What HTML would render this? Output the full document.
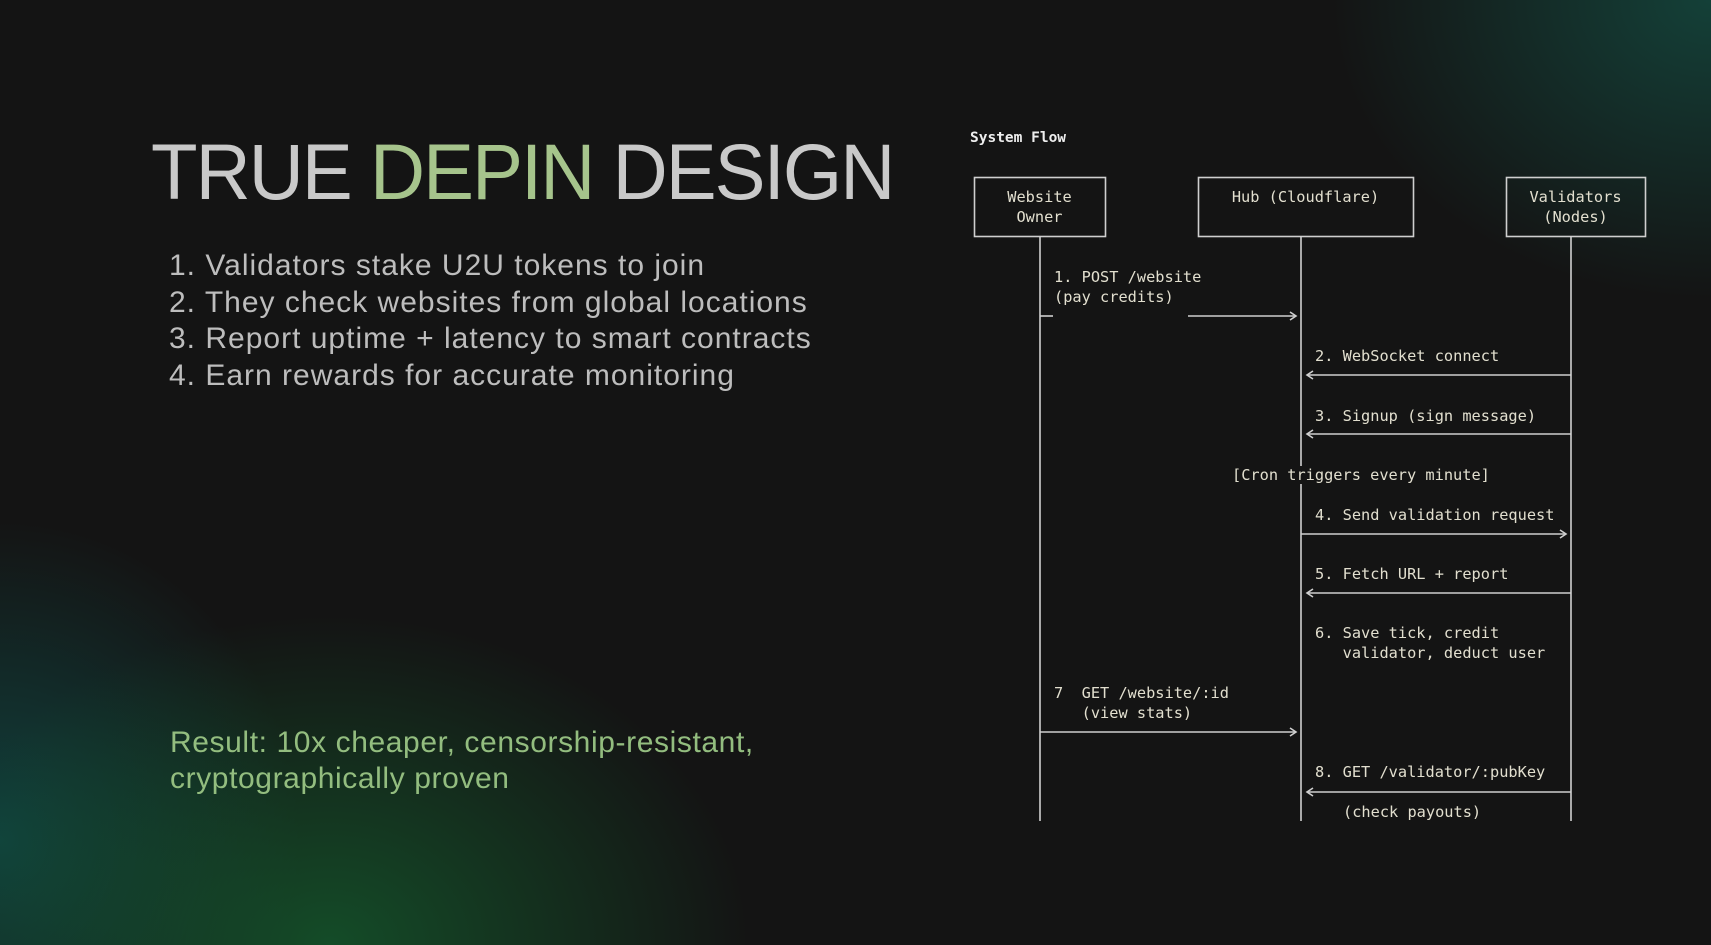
<!DOCTYPE html>
<html><head><meta charset="utf-8"><style>
html,body{margin:0;padding:0}
body{width:1711px;height:945px;overflow:hidden;position:relative;background:#141414;
background:
radial-gradient(ellipse 420px 330px at 330px 945px, rgba(20,90,45,0.8), rgba(20,90,45,0) 100%),
radial-gradient(ellipse 300px 320px at 0px 840px, rgba(15,80,75,0.75), rgba(15,80,75,0) 100%),
radial-gradient(ellipse 380px 300px at 1711px 0px, rgba(20,75,65,0.8), rgba(20,75,65,0) 100%),
#141414;font-family:"Liberation Sans",sans-serif}
h1{position:absolute;left:151px;top:126px;margin:0;font-weight:400;font-size:79px;color:#c9c9c9;letter-spacing:-2px;white-space:nowrap;transform:scaleX(0.965);transform-origin:0 0}
h1 span{color:#a6c48c}
.list{position:absolute;left:169px;top:248px;font-size:30px;letter-spacing:1px;line-height:36.6px;color:#bdbdbd;white-space:nowrap}
.res{position:absolute;left:170px;top:725px;font-size:30px;letter-spacing:0.6px;line-height:36px;color:#93bd7f;white-space:nowrap}
.m{position:absolute;font-family:"DejaVu Sans Mono","Liberation Mono",monospace;font-size:15.3px;color:#e2dfcf;white-space:pre;line-height:20px}
</style></head><body>
<h1>TRUE <span>DEPIN</span> DESIGN</h1>
<div class="list">1. Validators stake U2U tokens to join<br>2. They check websites from global locations<br>3. Report uptime + latency to smart contracts<br>4. Earn rewards for accurate monitoring</div>
<div class="res">Result: 10x cheaper, censorship-resistant,<br>cryptographically proven</div>

<div class="m" style="left:970px;top:128px;font-weight:bold;color:#eee;font-size:14.5px">System Flow</div>
<svg style="position:absolute;left:0;top:0" width="1711" height="945">
<g fill="none" stroke="#cfcfcf" stroke-width="1.6">
<rect x="974.5" y="177.5" width="131" height="59"/>
<rect x="1198.5" y="177.5" width="215" height="59"/>
<rect x="1506.5" y="177.5" width="139" height="59"/>
<line x1="1040" y1="237" x2="1040" y2="821"/>
<line x1="1301" y1="237" x2="1301" y2="466"/>
<line x1="1301" y1="484" x2="1301" y2="821"/>
<line x1="1571" y1="237" x2="1571" y2="821"/>
<line x1="1040" y1="316" x2="1053" y2="316"/>
<line x1="1188" y1="316" x2="1296" y2="316"/>
<polyline points="1290,312 1296,316 1290,320"/>
<line x1="1307" y1="375" x2="1571" y2="375"/><polyline points="1313,371 1307,375 1313,379"/>
<line x1="1307" y1="434" x2="1571" y2="434"/><polyline points="1313,430 1307,434 1313,438"/>
<line x1="1301" y1="534" x2="1566" y2="534"/><polyline points="1560,530 1566,534 1560,538"/>
<line x1="1307" y1="593" x2="1571" y2="593"/><polyline points="1313,589 1307,593 1313,597"/>
<line x1="1040" y1="732" x2="1296" y2="732"/><polyline points="1290,728 1296,732 1290,736"/>
<line x1="1307" y1="792" x2="1571" y2="792"/><polyline points="1313,788 1307,792 1313,796"/>
</g></svg>
<div class="m" style="left:974px;top:187px;width:131px;text-align:center">Website<br>Owner</div>
<div class="m" style="left:1198px;top:187px;width:215px;text-align:center">Hub (Cloudflare)</div>
<div class="m" style="left:1506px;top:187px;width:139px;text-align:center">Validators<br>(Nodes)</div>
<div class="m" style="left:1054px;top:267px">1. POST /website
(pay credits)</div>
<div class="m" style="left:1315px;top:346px">2. WebSocket connect</div>
<div class="m" style="left:1315px;top:406px">3. Signup (sign message)</div>
<div class="m" style="left:1232px;top:465px">[Cron triggers every minute]</div>
<div class="m" style="left:1315px;top:505px">4. Send validation request</div>
<div class="m" style="left:1315px;top:564px">5. Fetch URL + report</div>
<div class="m" style="left:1315px;top:623px">6. Save tick, credit
   validator, deduct user</div>
<div class="m" style="left:1054px;top:683px">7  GET /website/:id
   (view stats)</div>
<div class="m" style="left:1315px;top:762px">8. GET /validator/:pubKey</div>
<div class="m" style="left:1343px;top:802px">(check payouts)</div>
</body></html>
